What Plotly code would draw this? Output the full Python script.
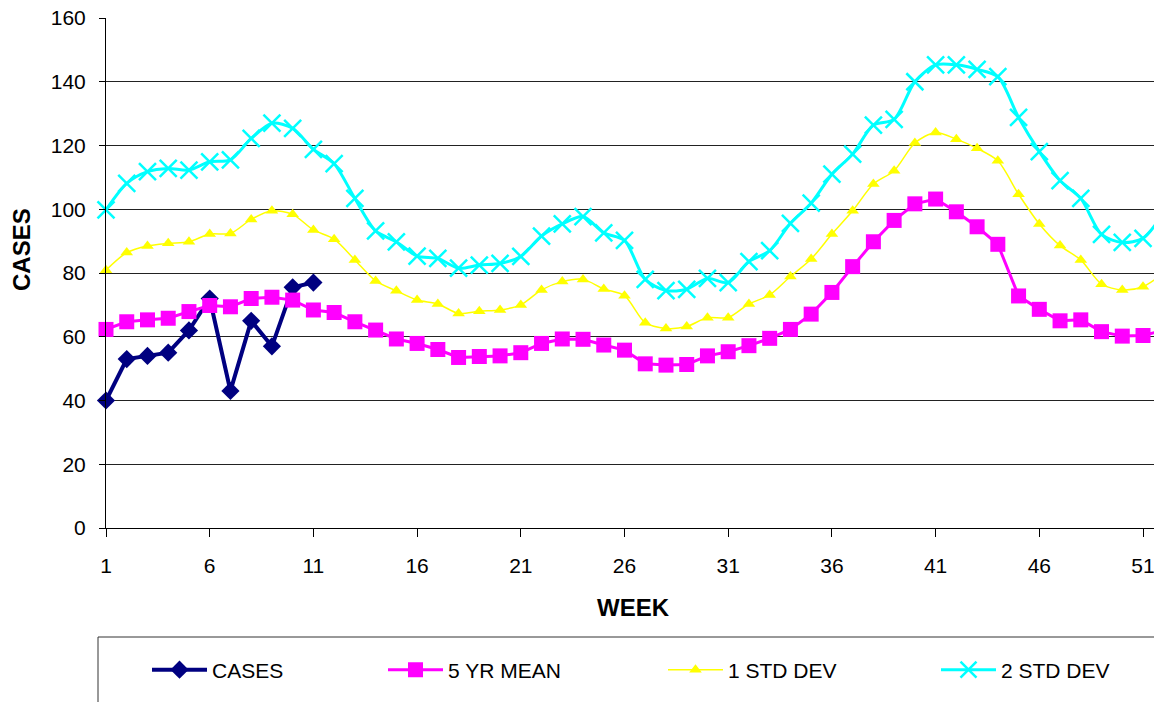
import plotly.graph_objects as go

weeks = list(range(1, 53))
case_weeks = list(range(1, 12))
cases = [40, 53, 54, 55, 62, 72, 43, 65, 57, 75.5, 77]
mean5 = [62.3, 64.7, 65.3, 65.8, 67.9, 69.8, 69.4, 72, 72.4, 71.5, 68.4, 67.6, 64.7, 62.1, 59.3,
         57.9, 56, 53.5, 53.8, 54, 55, 57.9, 59.3, 59.2, 57.4, 55.8, 51.5, 51.1, 51.3, 54,
         55.3, 57.2, 59.5, 62.3, 67.1, 73.9, 82, 89.8, 96.5, 101.7, 103.2, 99.2, 94.5, 89,
         72.8, 68.6, 65, 65.3, 61.6, 60.2, 60.4, 62]
std1 = [80.9, 86.4, 88.5, 89.3, 89.8, 92.2, 92.4, 96.8, 99.5, 98.4, 93.5, 90.6, 84.1, 77.5, 74.4,
        71.5, 70.3, 67.3, 68, 68.4, 70, 74.7, 77.3, 78, 75, 72.9, 64.4, 62.6, 63.2, 66,
        66, 70.3, 73.1, 78.9, 84.4, 92.2, 99.5, 107.9, 112.1, 120.8, 124.1, 122, 119.1, 115.2,
        104.7, 95.4, 88.6, 84.1, 76.5, 74.7, 75.7, 80]
std2 = [99.8, 108.1, 111.8, 112.8, 112.3, 114.9, 115.5, 122.2, 127, 125.4, 118.8, 114.3, 103.4, 93.2, 89.8,
        85.3, 84.6, 81.5, 82.5, 83, 85.2, 91.6, 95.4, 97.7, 92.6, 90.2, 78, 74.5, 74.9, 78.3,
        77, 83.6, 87, 95.6, 101.9, 111, 117.3, 126.4, 128.2, 140, 145.3, 145.3, 143.9, 141.6,
        128.8, 118.1, 109, 103.4, 92.1, 89.6, 90.9, 99]
series_names = ["CASES", "5 YR MEAN", "1 STD DEV", "2 STD DEV"]
y_ticks = [0, 20, 40, 60, 80, 100, 120, 140, 160]
x_ticks = [1, 6, 11, 16, 21, 26, 31, 36, 41, 46, 51]

FONT = "Arial, 'Liberation Sans', sans-serif"

fig = go.Figure()
fig.add_trace(go.Scatter(
    x=case_weeks, y=cases, name=series_names[0], mode="lines+markers",
    line=dict(color="#000080", width=4),
    marker=dict(symbol="diamond", size=14, color="#000080"),
    cliponaxis=False, legend="legend"))
fig.add_trace(go.Scatter(
    x=weeks, y=mean5, name=series_names[1], mode="lines+markers",
    line=dict(color="#FF00FF", width=3),
    marker=dict(symbol="square", size=15, color="#FF00FF"),
    cliponaxis=False, legend="legend2"))
fig.add_trace(go.Scatter(
    x=weeks, y=std1, name=series_names[2], mode="lines+markers",
    line=dict(color="#FFFF00", width=1.5, shape="spline", smoothing=0.8),
    marker=dict(symbol="triangle-up", size=11, color="#FFFF00"),
    cliponaxis=False, legend="legend3"))
fig.add_trace(go.Scatter(
    x=weeks, y=std2, name=series_names[3], mode="lines+markers",
    line=dict(color="#00FFFF", width=3, shape="spline", smoothing=0.8),
    marker=dict(symbol="x-thin", size=17, color="#00FFFF",
                line=dict(color="#00FFFF", width=2.5)),
    cliponaxis=False, legend="legend4"))

W, H = 1154, 702
L, R, T, B = 106, 0, 18, 174
pw, ph = W - L - R, H - T - B


def px_x(x):
    return (x - L) / pw


def px_y(y):
    return (H - B - y) / ph


leg_common = dict(orientation="h", xanchor="left", yanchor="middle",
                  font=dict(family=FONT, size=21, color="#000000"),
                  bgcolor="rgba(0,0,0,0)", borderwidth=0, itemwidth=55)
legend_left = [147, 383, 663, 936]

fig.update_layout(
    width=W, height=H,
    margin=dict(l=L, r=R, t=T, b=B, pad=0),
    paper_bgcolor="white", plot_bgcolor="white",
    font=dict(family=FONT, size=21, color="#000000"),
    showlegend=True,
    legend=dict(x=px_x(legend_left[0]), y=px_y(670), **leg_common),
    legend2=dict(x=px_x(legend_left[1]), y=px_y(670), **leg_common),
    legend3=dict(x=px_x(legend_left[2]), y=px_y(670), **leg_common),
    legend4=dict(x=px_x(legend_left[3]), y=px_y(670), **leg_common),
    xaxis=dict(range=[1, 51.53], tickvals=x_ticks, ticktext=[str(v) for v in x_ticks],
               showgrid=False, zeroline=False, showline=True, linecolor="#000000", linewidth=1,
               ticks="outside", ticklen=8, tickcolor="#000000", tickwidth=1,
               ticklabelstandoff=11, ticklabeloverflow="allow",
               tickfont=dict(family=FONT, size=21, color="#000000")),
    yaxis=dict(range=[0, 160], tickvals=y_ticks,
               showgrid=True, gridcolor="#222222", gridwidth=1, zeroline=False,
               showline=True, linecolor="#000000", linewidth=1,
               ticks="outside", ticklen=6, tickcolor="#000000", tickwidth=1,
               ticklabelstandoff=9,
               tickfont=dict(family=FONT, size=21, color="#000000")),
    annotations=[
        dict(text="<b>CASES</b>", xref="paper", yref="paper", x=px_x(21), y=px_y(250),
             showarrow=False, textangle=-90, xanchor="center", yanchor="middle",
             font=dict(family=FONT, size=24, color="#000000")),
        dict(text="<b>WEEK</b>", xref="paper", yref="paper", x=px_x(633), y=px_y(607),
             showarrow=False, xanchor="center", yanchor="middle",
             font=dict(family=FONT, size=24, color="#000000")),
    ],
    shapes=[
        dict(type="rect", xref="paper", yref="paper",
             x0=px_x(98), x1=px_x(1170), y0=px_y(637), y1=px_y(720),
             line=dict(color="#333333", width=1), fillcolor="rgba(0,0,0,0)", layer="below"),
    ],
)

fig.write_html("out.html", config={"displayModeBar": False},
               post_script="document.body.style.margin='0';")
